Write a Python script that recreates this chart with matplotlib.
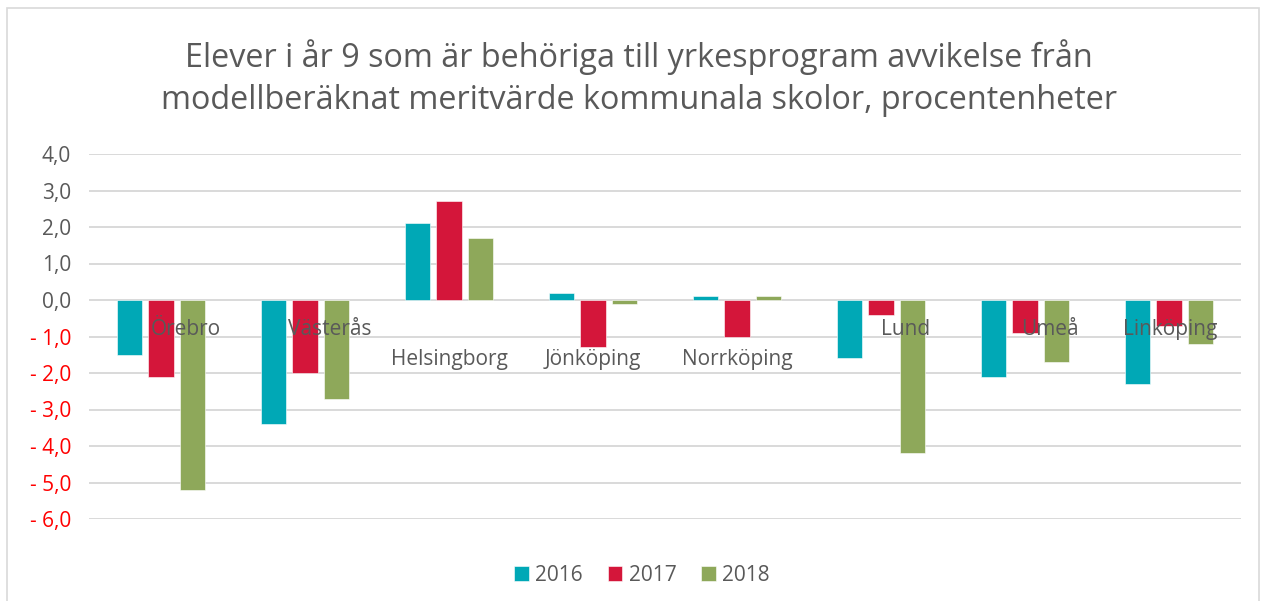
import numpy as np
import matplotlib.pyplot as plt
import matplotlib
from matplotlib.patches import Rectangle
from matplotlib.ticker import FuncFormatter

# data
kommuner = ['Örebro', 'Västerås', 'Helsingborg', 'Jönköping', 'Norrköping', 'Lund', 'Umeå', 'Linköping']
v2016 = [-1.5, -3.4, 2.1, 0.2, 0.1, -1.6, -2.1, -2.3]
v2017 = [-2.1, -2.0, 2.7, -1.3, -1.0, -0.4, -0.9, -0.7]
v2018 = [-5.2, -2.7, 1.7, -0.1, 0.1, -4.2, -1.7, -1.2]
years = ['2016', '2017', '2018']

# label placement (as excel drew it)
lab_dx = [0.17, 0.17, 0.0, 0.0, 0.0, 0.17, 0.17, 0.01]
lab_y = [-0.82, -0.82, -1.64, -1.64, -1.64, -0.82, -0.82, -0.82]

colors = ['#00A8B6', '#D4163A', '#8EA85A']
grey = '#595959'

matplotlib.rcParams['font.family'] = ['Open Sans', 'DejaVu Sans']

fig = plt.figure(figsize=(12.66, 6.01), dpi=100)
fig.patches.append(Rectangle((7 / 1266, -0.01), 1252 / 1266, 1 - 8 / 601 + 0.01,
                             transform=fig.transFigure, fill=False,
                             edgecolor='#d9d9d9', lw=1.2))

ax = fig.add_axes([89 / 1266, 1 - 519 / 601, 1152 / 1266, 365 / 601])

x = np.arange(len(kommuner))
w = 0.174
off = 0.222
for i, (vals, c) in enumerate(zip([v2016, v2017, v2018], colors)):
    ax.bar(x + (i - 1) * off, vals, width=w, color=c, label=years[i],
           edgecolor='white', linewidth=0.4, zorder=3)

ax.set_xlim(-0.5, len(kommuner) - 0.5)
ax.set_ylim(-6, 4)
ax.set_yticks(np.arange(-6, 5, 1))
ax.grid(axis='y', color='#d9d9d9', lw=1.4, zorder=0)
ax.set_xticks([])
for s in ax.spines.values():
    s.set_visible(False)
ax.tick_params(axis='y', length=0, pad=13, labelsize=15)


def fmt(v, pos):
    s = '%.1f' % abs(v)
    s = s.replace('.', ',')
    return '- ' + s if v < 0 else s


ax.yaxis.set_major_formatter(FuncFormatter(fmt))
for t, v in zip(ax.get_yticklabels(), np.arange(-6, 5, 1)):
    t.set_color('#FF0000' if v < 0 else grey)

for i, k in enumerate(kommuner):
    ax.text(x[i] + lab_dx[i], lab_y[i], k, ha='center', va='center',
            fontsize=15, color=grey, zorder=4)

fig.text(0.505, 0.87, 'Elever i år 9 som är behöriga till yrkesprogram avvikelse från\n'
         'modellberäknat meritvärde kommunala skolor, procentenheter',
         ha='center', va='center', fontsize=23.3, color=grey, linespacing=1.35)

leg = ax.legend(loc='center', bbox_to_anchor=(0.48, -0.155), ncol=3, frameon=False,
                fontsize=15, handlelength=0.7, handleheight=0.7,
                handletextpad=0.3, columnspacing=1.2)
for t in leg.get_texts():
    t.set_color(grey)

fig.savefig('out.png', dpi=100)
